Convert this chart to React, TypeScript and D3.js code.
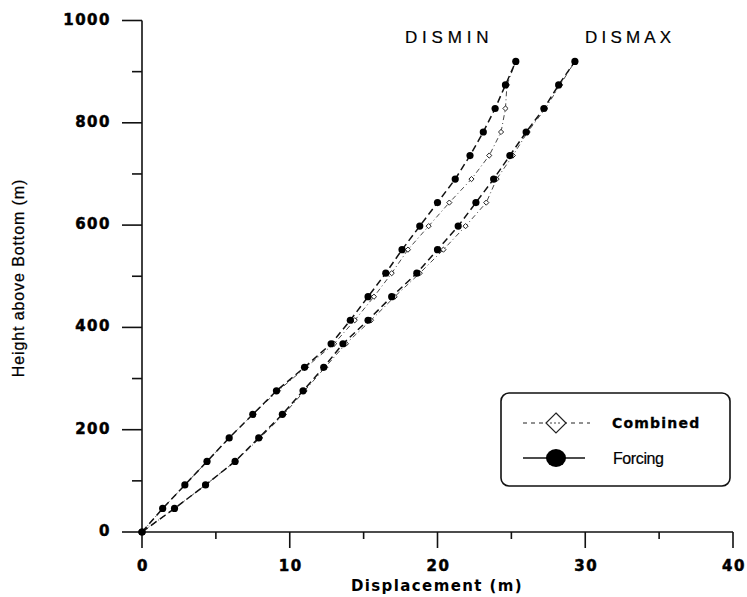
import React from 'react';
import * as d3 from 'd3';

// heights above bottom (m)
const heights = [0, 46, 92, 138, 184, 230, 276, 322, 368, 414, 460, 506, 552, 598, 644, 690, 736, 782, 828, 874, 920];

// displacement (m)
const minForcing = [0, 1.4, 2.9, 4.4, 5.9, 7.5, 9.1, 11.0, 12.8, 14.1, 15.3, 16.5, 17.6, 18.8, 20.0, 21.2, 22.2, 23.1, 23.9, 24.6, 25.3];
const minCombined = [0, 1.4, 2.9, 4.4, 5.9, 7.5, 9.2, 11.1, 13.0, 14.4, 15.7, 16.9, 18.0, 19.4, 20.8, 22.3, 23.5, 24.3, 24.6, 24.7, 25.3];
const maxForcing = [0, 2.2, 4.3, 6.3, 7.9, 9.5, 10.9, 12.3, 13.6, 15.3, 16.9, 18.6, 20.0, 21.4, 22.6, 23.8, 24.9, 26.0, 27.2, 28.2, 29.3];
const maxCombined = [0, 2.2, 4.3, 6.3, 8.0, 9.6, 11.0, 12.4, 13.8, 15.5, 17.1, 18.8, 20.4, 21.9, 23.3, 24.0, 25.1, 26.1, 27.3, 28.3, 29.3];

const xMajor = [0, 10, 20, 30, 40];
const xMinor = [5, 15, 25, 35];
const yMajor = [0, 200, 400, 600, 800, 1000];
const yMinor = [100, 300, 500, 700, 900];

const W = 747;
const H = 597;

export default function App() {
  const x = d3.scaleLinear().domain([0, 40]).range([142, 733]);
  const y = d3.scaleLinear().domain([0, 1000]).range([532, 20.5]);

  const line = d3
    .line<number>()
    .x((d) => x(d))
    .y((_, i) => y(heights[i]));

  const tickFont = {
    fontFamily: 'DejaVu Sans',
    fontWeight: 'bold',
    fontSize: 15,
    letterSpacing: 1.5,
    stroke: '#000',
    strokeWidth: 0.5,
  } as const;

  const forcingSeries = [minForcing, maxForcing];
  const combinedSeries = [minCombined, maxCombined];

  const diamond = (cx: number, cy: number, r: number) =>
    `M${cx},${cy - r}L${cx + r},${cy}L${cx},${cy + r}L${cx - r},${cy}Z`;

  return (
    <svg width={W} height={H} style={{ position: 'absolute', left: 0, top: 0, background: '#fff' }}>
      {/* axes */}
      <g stroke="#111" strokeWidth={1.6} fill="none">
        <line x1={x(0)} x2={x(40)} y1={y(0)} y2={y(0)} />
        <line x1={x(0)} x2={x(0)} y1={y(0)} y2={y(1000)} />
        {xMajor.map((t) => (
          <line key={'xM' + t} x1={x(t)} x2={x(t)} y1={y(0)} y2={y(0) + 16} />
        ))}
        {xMinor.map((t) => (
          <line key={'xm' + t} x1={x(t)} x2={x(t)} y1={y(0)} y2={y(0) + 7} />
        ))}
        {yMajor.map((t) => (
          <line key={'yM' + t} x1={x(0) - 20} x2={x(0)} y1={y(t)} y2={y(t)} />
        ))}
        {yMinor.map((t) => (
          <line key={'ym' + t} x1={x(0) - 10} x2={x(0)} y1={y(t)} y2={y(t)} />
        ))}
      </g>
      {xMajor.map((t) => (
        <text key={'xl' + t} x={x(t) + 1} y={571} textAnchor="middle" {...tickFont}>
          {t}
        </text>
      ))}
      {yMajor.map((t) => (
        <text key={'yl' + t} x={111} y={y(t) + 4} textAnchor="end" {...tickFont}>
          {t}
        </text>
      ))}
      <text x={437} y={591} textAnchor="middle" fontFamily="DejaVu Sans" fontWeight="bold" fontSize={15} letterSpacing={1.4}>
        Displacement (m)
      </text>
      <text
        transform="translate(24,278) rotate(-90)"
        textAnchor="middle"
        fontFamily="Liberation Sans"
        fontSize={16}
        letterSpacing={0.9}
        stroke="#000"
        strokeWidth={0.25}
      >
        Height above Bottom (m)
      </text>

      {/* combined: thin dash-dot lines with small open diamonds */}
      {combinedSeries.map((s, k) => (
        <g key={'c' + k}>
          <path d={line(s) || ''} fill="none" stroke="#333" strokeWidth={0.9} strokeDasharray="5,3,1,3" />
          {s.map((v, i) => (
            <path key={i} d={diamond(x(v), y(heights[i]), 2.6)} fill="#fff" stroke="#222" strokeWidth={1} />
          ))}
        </g>
      ))}

      {/* forcing: dashed lines with filled dots */}
      {forcingSeries.map((s, k) => (
        <g key={'f' + k}>
          <path d={line(s) || ''} fill="none" stroke="#111" strokeWidth={1.5} strokeDasharray="7,4" />
          {s.map((v, i) => (
            <circle key={i} cx={x(v)} cy={y(heights[i])} r={3.6} fill="#000" />
          ))}
        </g>
      ))}

      <text x={405} y={43} fontFamily="Liberation Sans" fontSize={17} letterSpacing={4.8} stroke="#000" strokeWidth={0.2}>
        DISMIN
      </text>
      <text x={585} y={43} fontFamily="Liberation Sans" fontSize={17} letterSpacing={4.2} stroke="#000" strokeWidth={0.2}>
        DISMAX
      </text>

      {/* legend */}
      <rect x={501} y={393} width={229} height={93} rx={8} fill="#fff" stroke="#111" strokeWidth={1.6} />
      <line x1={523} x2={590} y1={423} y2={423} stroke="#222" strokeWidth={1} strokeDasharray="4,4" />
      <path d={diamond(556, 423, 10)} fill="#fff" stroke="#222" strokeWidth={1.2} />
      <line x1={550} x2={562} y1={423} y2={423} stroke="#444" strokeWidth={1} strokeDasharray="2,2" />
      <text x={612} y={428} fontFamily="DejaVu Sans" fontWeight="bold" fontSize={14} letterSpacing={1.2} stroke="#000" strokeWidth={0.3}>
        Combined
      </text>
      <line x1={523} x2={585} y1={458} y2={458} stroke="#111" strokeWidth={1.6} />
      <ellipse cx={556} cy={458} rx={10} ry={9} fill="#000" />
      <text x={613} y={464} fontFamily="Liberation Sans" fontSize={16} letterSpacing={-0.4} stroke="#000" strokeWidth={0.2}>
        Forcing
      </text>
    </svg>
  );
}
